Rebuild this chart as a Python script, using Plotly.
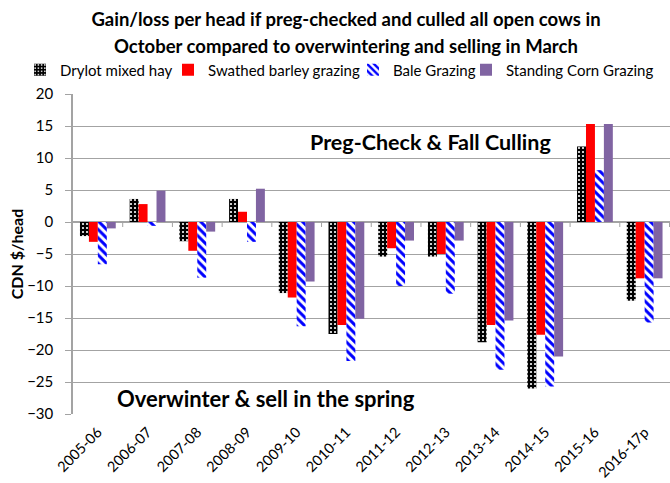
import plotly.graph_objects as go

categories = ["2005-06", "2006-07", "2007-08", "2008-09", "2009-10", "2010-11",
              "2011-12", "2012-13", "2013-14", "2014-15", "2015-16", "2016-17p"]
drylot_mixed_hay = [-2.2, 3.6, -3.0, 3.6, -11.1, -17.5, -5.4, -5.4, -18.8, -26.0, 11.8, -12.3]
swathed_barley = [-3.1, 2.8, -4.5, 1.6, -11.8, -16.1, -4.1, -5.0, -16.1, -17.6, 15.3, -8.8]
bale_grazing = [-6.6, -0.6, -8.7, -3.1, -16.3, -21.7, -10.0, -11.2, -23.1, -25.7, 8.1, -15.7]
standing_corn = [-1.0, 4.9, -1.5, 5.2, -9.3, -15.1, -2.9, -2.9, -15.4, -21.0, 15.3, -8.8]
y_ticks = [-30, -25, -20, -15, -10, -5, 0, 5, 10, 15, 20]

FONT = "Lato"
GRID = "#a3a3a3"
W, H = 670, 483

fig = go.Figure()
fig.add_trace(go.Bar(
    name="Drylot mixed hay", x=categories, y=drylot_mixed_hay, legend="legend",
    marker=dict(color="black", line=dict(width=0),
                pattern=dict(shape=".", bgcolor="black", fgcolor="white",
                             size=4, solidity=0.22, fillmode="replace")),
))
fig.add_trace(go.Bar(
    name="Swathed barley grazing", x=categories, y=swathed_barley, legend="legend2",
    marker=dict(color="#FF0000", line=dict(width=0)),
))
fig.add_trace(go.Bar(
    name="Bale Grazing", x=categories, y=bale_grazing, legend="legend3",
    marker=dict(color="white", line=dict(width=0),
                pattern=dict(shape="\\", bgcolor="white", fgcolor="#0000FF",
                             size=6, solidity=0.5, fillmode="replace")),
))
fig.add_trace(go.Bar(
    name="Standing Corn Grazing", x=categories, y=standing_corn, legend="legend4",
    marker=dict(color="#8064A2", line=dict(width=0)),
))

# small tick marks on the zero (category) axis at category boundaries
shapes = []
for i in range(len(categories)):
    shapes.append(dict(type="line", xref="x", yref="y", x0=i + 0.5, x1=i + 0.5,
                       ysizemode="pixel", yanchor=0, y0=0, y1=-5,
                       line=dict(color=GRID, width=1)))


def legend_at(text_start_px):
    return dict(orientation="h", xref="container", yref="container",
                x=(text_start_px - 38) / W, xanchor="left",
                y=1 - 70 / H, yanchor="middle",
                font=dict(family=FONT, size=15), itemwidth=30,
                bgcolor="rgba(0,0,0,0)", borderwidth=0)


plot_top, plot_bottom = 94, 414
plot_h = plot_bottom - plot_top

fig.update_layout(
    width=W, height=H,
    showlegend=True,
    paper_bgcolor="white", plot_bgcolor="white",
    margin=dict(l=73, r=0, t=plot_top, b=H - plot_bottom, autoexpand=False),
    font=dict(family=FONT, color="black"),
    barmode="group", bargap=0.28, bargroupgap=0,
    title=dict(text="Gain/loss per head if preg-checked and culled all open cows in",
               x=346 / W, xanchor="center", xref="container",
               y=1 - 20 / H, yanchor="middle", yref="container",
               font=dict(family=FONT, size=18.5, color="black", weight="bold")),
    legend=legend_at(58),
    legend2=legend_at(206),
    legend3=legend_at(391),
    legend4=legend_at(504),
    xaxis=dict(showline=False, ticks="", showgrid=False, tickangle=-45,
               tickfont=dict(family=FONT, size=14.5), type="category",
               ticklabelstandoff=6, ticklabelshift=0),
    yaxis=dict(range=[-30, 20], tickvals=y_ticks, showgrid=True, gridcolor=GRID,
               gridwidth=1, zeroline=True, zerolinecolor=GRID, zerolinewidth=1.5,
               showline=True, linecolor=GRID, linewidth=1.5, ticks="outside",
               ticklen=6, tickcolor=GRID, tickfont=dict(family=FONT, size=15),
               ticklabelstandoff=9,
               title=dict(text="CDN $/head", font=dict(family=FONT, size=16, weight="bold"),
                          standoff=0)),
    shapes=shapes,
    annotations=[
        dict(text="October compared to overwintering and selling in March",
             xref="paper", yref="paper",
             x=(346 - 73) / (W - 73), y=1 + (plot_top - 46) / plot_h,
             xanchor="center", yanchor="middle", showarrow=False,
             font=dict(family=FONT, size=18.5, weight="bold")),
        dict(text="Preg-Check & Fall Culling", xref="paper", yref="paper",
             x=(430 - 73) / (W - 73), y=1 - (142 - plot_top) / plot_h,
             xanchor="center", yanchor="middle",
             showarrow=False, font=dict(family=FONT, size=21.5, weight="bold")),
        dict(text="Overwinter & sell in the spring", xref="paper", yref="paper",
             x=(266 - 73) / (W - 73), y=1 - (398 - plot_top) / plot_h,
             xanchor="center", yanchor="middle",
             showarrow=False, font=dict(family=FONT, size=22, weight="bold")),
    ],
)

fig.write_html("out.html", config={"displayModeBar": False},
               post_script="document.body.style.margin='0';document.body.style.overflow='hidden';")
